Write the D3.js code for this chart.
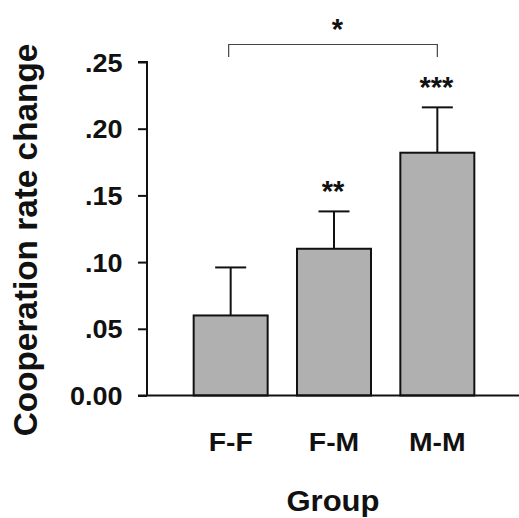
<!DOCTYPE html>
<html>
<head>
<meta charset="utf-8">
<script src="https://cdn.jsdelivr.net/npm/d3@7"></script>
<style>
  body { margin: 0; background: #fff; }
  text { font-family: "Liberation Sans", Arial, sans-serif; font-weight: bold; fill: #111; }
</style>
</head>
<body>
<div id="chart"></div>
<script>
// data
const groups = ["F-F", "F-M", "M-M"];
const means = [0.060, 0.110, 0.182];
const errors = [0.036, 0.028, 0.034];
const stars = ["", "**", "***"];
const yTicks = [0, 0.05, 0.10, 0.15, 0.20, 0.25];
const yTickLabels = ["0.00", ".05", ".10", ".15", ".20", ".25"];

const width = 519, height = 518;
const margin = { top: 62, right: 0, bottom: 122.5, left: 147 };
// the original lettering is a little wider than Liberation Sans
const stretch = 1.07;

const svg = d3.select("#chart").append("svg")
    .attr("width", width)
    .attr("height", height);

// set the ranges
const x = d3.scaleBand()
    .domain(groups)
    .range([142, 526])
    .paddingInner(0.284)
    .paddingOuter(0.5);
const y = d3.scaleLinear()
    .domain([0, 0.25])
    .range([height - margin.bottom, margin.top]);

// places a text at (tx,ty), widened along its baseline
const wideText = (sel, tx, ty, rot, s) => sel
    .attr("x", 0).attr("y", 0)
    .attr("transform", `translate(${tx},${ty})${rot ? " rotate(" + rot + ")" : ""} scale(${s || stretch},1)`);

// bars
svg.selectAll(".bar")
    .data(groups)
    .enter()
    .append("rect")
    .attr("class", "bar")
    .attr("x", d => x(d))
    .attr("y", (d, i) => y(means[i]))
    .attr("width", x.bandwidth())
    .attr("height", (d, i) => y(0) - y(means[i]))
    .attr("fill", "#b0b0b0")
    .attr("stroke", "#111")
    .attr("stroke-width", 2);

// error bars (upper only)
const capW = 31;
groups.forEach((g, i) => {
    const cx = x(g) + x.bandwidth() / 2;
    svg.append("line")
        .attr("x1", cx).attr("x2", cx)
        .attr("y1", y(means[i])).attr("y2", y(means[i] + errors[i]))
        .attr("stroke", "#111").attr("stroke-width", 2);
    svg.append("line")
        .attr("x1", cx - capW / 2).attr("x2", cx + capW / 2)
        .attr("y1", y(means[i] + errors[i])).attr("y2", y(means[i] + errors[i]))
        .attr("stroke", "#111").attr("stroke-width", 2);
    if (stars[i]) {
        svg.append("text")
            .attr("text-anchor", "middle")
            .style("font-size", "29px")
            .call(wideText, cx - 1, y(means[i] + errors[i]) - 10, 0, 1)
            .text(stars[i]);
    }
});

// Y axis
const yAxis = d3.axisLeft(y)
    .tickValues(yTicks)
    .tickFormat((d, i) => yTickLabels[i])
    .tickSize(9)
    .tickPadding(9);
const gy = svg.append("g")
    .attr("transform", `translate(${margin.left},0)`)
    .call(yAxis);
gy.select(".domain").attr("stroke", "#111").attr("stroke-width", 2)
    .attr("d", `M-9,${y(0.25)}H0V${y(0)}`);
gy.selectAll(".tick line").attr("stroke", "#111").attr("stroke-width", 2);
gy.selectAll(".tick text")
    .style("font-size", "25px")
    .attr("font-family", null)
    .attr("fill", null)
    .attr("dy", "0.36em")
    .call(wideText, -24.5, 0, 0, 1.08);

// X axis line
svg.append("line")
    .attr("x1", margin.left - 9).attr("x2", width)
    .attr("y1", y(0)).attr("y2", y(0))
    .attr("stroke", "#111").attr("stroke-width", 2);

// group labels
svg.selectAll(".glabel")
    .data(groups)
    .enter()
    .append("text")
    .attr("class", "glabel")
    .attr("text-anchor", "middle")
    .style("font-size", "26.5px")
    .each(function (d) {
        d3.select(this).call(wideText, x(d) + x.bandwidth() / 2, 451);
    })
    .text(d => d);

// significance bracket F-F vs M-M
const bx1 = x("F-F") + x.bandwidth() / 2 - 2;
const bx2 = x("M-M") + x.bandwidth() / 2;
svg.append("path")
    .attr("d", `M${bx1},57 V44.5 H${bx2} V57`)
    .attr("fill", "none")
    .attr("stroke", "#444")
    .attr("stroke-width", 1.2);
svg.append("text")
    .attr("text-anchor", "middle")
    .style("font-size", "29px")
    .call(wideText, 337.5, 38.5, 0, 1)
    .text("*");

// axis titles
svg.append("text")
    .attr("text-anchor", "middle")
    .style("font-size", "29px")
    .call(wideText, 333, 511)
    .text("Group");

svg.append("text")
    .attr("text-anchor", "middle")
    .style("font-size", "33px")
    .call(wideText, 36.5, 240, -90, 1.01)
    .text("Cooperation rate change");
</script>
</body>
</html>
